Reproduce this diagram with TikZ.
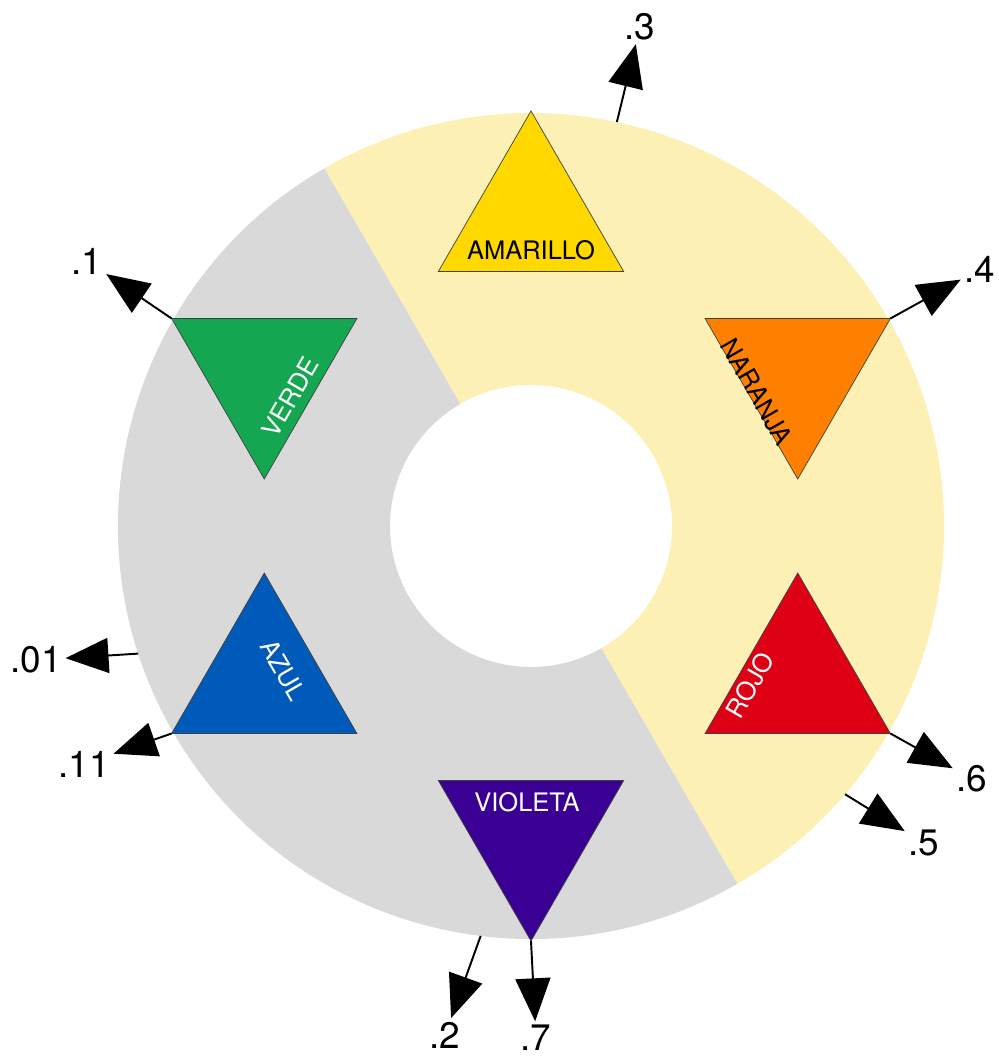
\documentclass[tikz,border=0pt]{standalone}
\usepackage{fontspec}
\setmainfont{TeX Gyre Heros}
\usetikzlibrary{shapes.geometric}
\usetikzlibrary{arrows.meta}

\definecolor{colGray}{RGB}{217,217,217}
\definecolor{colCream}{RGB}{253,240,181}
\definecolor{colAmarillo}{RGB}{255,216,0}
\definecolor{colNaranja}{RGB}{255,128,0}
\definecolor{colRojo}{RGB}{222,0,20}
\definecolor{colVioleta}{RGB}{58,0,148}
\definecolor{colAzul}{RGB}{0,90,185}
\definecolor{colVerde}{RGB}{20,166,80}

\begin{document}
\begin{tikzpicture}[x=0.02cm, y=0.02cm,
    tri/.style={regular polygon, regular polygon sides=3, minimum size=4.28cm, inner sep=0pt, outer sep=0pt, draw=black!75, line width=0.4pt},
    tridown/.style={tri, shape border rotate=180},
    colname/.style={font=\fontsize{14.5}{17}\selectfont, inner sep=0pt},
    tick/.style={font=\fontsize{21}{25}\selectfont, inner sep=2pt},
    pointer/.style={line width=1.1pt, -{Triangle[length=0.86cm, width=0.7cm]}}]

    \useasboundingbox (-531,-534) rectangle (468,526);

    % Ring
    \fill[colGray] (120:413) arc[start angle=120, end angle=300, radius=413] -- (300:141) arc[start angle=300, end angle=120, radius=141] -- cycle;
    \fill[colCream] (-60:413) arc[start angle=-60, end angle=120, radius=413] -- (120:141) arc[start angle=120, end angle=-60, radius=141] -- cycle;

    % Triangles
    \node[tri, fill=colAmarillo] (amarillo) at (90:308) {};
    \node[tridown, fill=colNaranja] (naranja) at (30:308) {};
    \node[tri, fill=colRojo] (rojo) at (-30:308) {};
    \node[tridown, fill=colVioleta] (violeta) at (-90:308) {};
    \node[tri, fill=colAzul] (azul) at (210:308) {};
    \node[tridown, fill=colVerde] (verde) at (150:308) {};

    % Names
    \node[colname] (amarilloname) at ([shift={(0,-32)}]amarillo.center) {AMARILLO};
    \node[colname, rotate=-60] (naranjaname) at ([shift={(-41,-20)}]naranja.center) {NARANJA};
    \node[colname, rotate=60, text=white] (rojoname) at ([shift={(-48,-5)}]rojo.center) {ROJO};
    \node[colname, text=white] (violetaname) at ([shift={(-4,32)}]violeta.center) {VIOLETA};
    \node[colname, rotate=-60, text=white] (azulname) at ([shift={(19,10)}]azul.center) {AZUL};
    \node[colname, rotate=60, text=white] (verdename) at ([shift={(26,-25)}]verde.center) {VERDE};

    % Points on the ring
    \coordinate (ring3) at (78:413);
    \coordinate (ring01) at (198:413);
    \coordinate (ring5) at (-40.5:413);
    \coordinate (ring2) at (263:413);

    % Values
    \node[tick] (t3) at (109,499) {.3};
    \node[tick] (t1) at (-444,265) {.1};
    \node[tick] (t4) at (449,257) {.4};
    \node[tick] (t01) at (-495,-134) {.01};
    \node[tick] (t11) at (-447,-238) {.11};
    \node[tick] (t6) at (441,-253) {.6};
    \node[tick] (t5) at (393,-317) {.5};
    \node[tick] (t2) at (-86,-509) {.2};
    \node[tick] (t7) at (5,-512) {.7};

    % Arrows
    \draw[pointer] (ring3) -- (t3);
    \draw[pointer] (verde.corner 3) -- (t1);
    \draw[pointer] (naranja.corner 2) -- (t4);
    \draw[pointer] (ring01) -- (t01);
    \draw[pointer] (azul.corner 2) -- (t11);
    \draw[pointer] (rojo.corner 3) -- (t6);
    \draw[pointer] (ring5) -- (t5);
    \draw[pointer] (ring2) -- (t2);
    \draw[pointer] (violeta.corner 1) -- (t7);

\end{tikzpicture}
\end{document}
